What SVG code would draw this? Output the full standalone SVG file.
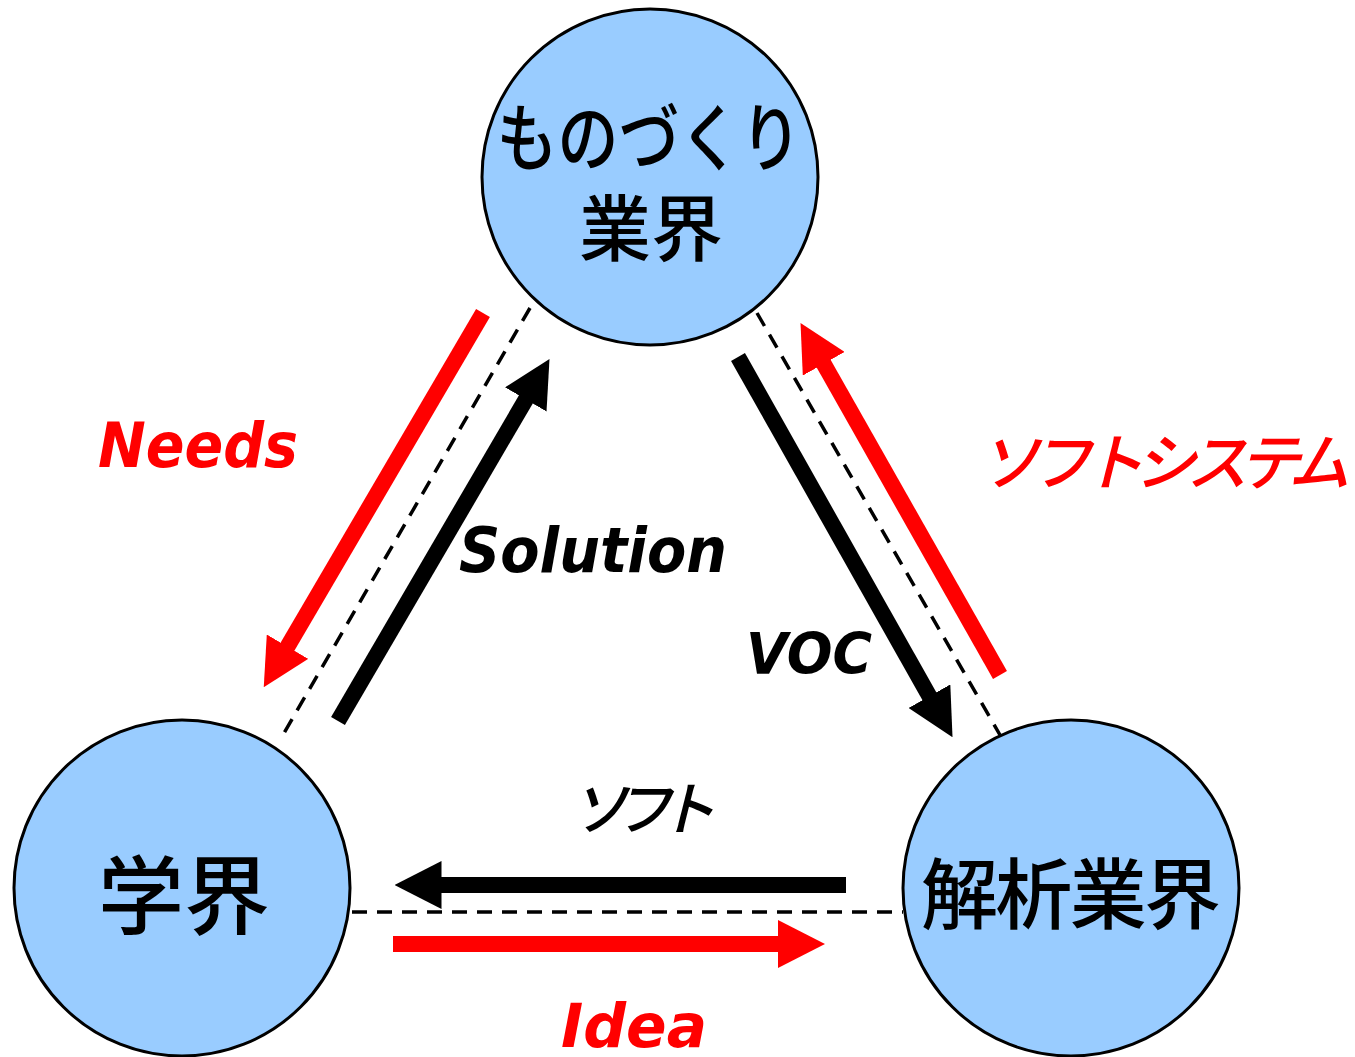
<svg xmlns="http://www.w3.org/2000/svg" width="1355" height="1057" viewBox="0 0 1355 1057">
  <style>
    .node { fill: #99CCFF; stroke: #000000; stroke-width: 3; }
    .ntext { font-family: "Noto Sans CJK JP", "Noto Sans", sans-serif; font-weight: 500; fill: #000000; text-anchor: middle; }
    .dash { stroke: #000000; stroke-width: 3.5; stroke-dasharray: 15 10; fill: none; }
    .arrow-k { stroke: #000000; stroke-width: 16; fill: none; marker-end: url(#headK); }
    .arrow-r { stroke: #FF0000; stroke-width: 16; fill: none; marker-end: url(#headR); }
    .lat { font-family: "DejaVu Sans", "Liberation Sans", sans-serif; font-weight: bold; font-style: italic; }
    .jp { font-family: "Noto Sans CJK JP", sans-serif; font-weight: 500; font-style: italic; }
    .red { fill: #FF0000; }
    .blk { fill: #000000; }
  </style>
  <defs>
    <marker id="headK" markerUnits="userSpaceOnUse" viewBox="0 0 47 48" markerWidth="47" markerHeight="48" refX="1" refY="24" orient="auto">
      <path d="M0,0 L47,24 L0,48 Z" fill="#000000"/>
    </marker>
    <marker id="headR" markerUnits="userSpaceOnUse" viewBox="0 0 47 48" markerWidth="47" markerHeight="48" refX="1" refY="24" orient="auto">
      <path d="M0,0 L47,24 L0,48 Z" fill="#FF0000"/>
    </marker>
  </defs>

  <rect x="0" y="0" width="1355" height="1057" fill="#FFFFFF"/>

  <g id="connectors">
    <line class="dash" x1="530" y1="308" x2="280" y2="740"/>
    <line class="dash" x1="757" y1="313" x2="1000" y2="735"/>
    <line class="dash" x1="352" y1="912" x2="903" y2="912"/>

    <line class="arrow-r" x1="483" y1="313" x2="287" y2="647.5"/>
    <line class="arrow-k" x1="338" y1="721" x2="526.3" y2="398.6"/>
    <line class="arrow-k" x1="738" y1="357" x2="929.9" y2="697.1"/>
    <line class="arrow-r" x1="1000" y1="675" x2="823.2" y2="362.9"/>
    <line class="arrow-k" x1="846" y1="885" x2="440.5" y2="885"/>
    <line class="arrow-r" x1="393" y1="944" x2="779" y2="944"/>
  </g>

  <g id="node-monozukuri">
    <circle class="node" cx="650" cy="177" r="168"/>
    <text class="ntext" x="649" y="165" font-size="74" textLength="305" lengthAdjust="spacingAndGlyphs">ものづくり</text>
    <text class="ntext" x="651" y="255" font-size="72">業界</text>
  </g>

  <g id="node-gakkai">
    <circle class="node" cx="182" cy="888" r="168"/>
    <text class="ntext" x="184" y="928" font-size="86">学界</text>
  </g>

  <g id="node-kaiseki">
    <circle class="node" cx="1071" cy="888" r="168"/>
    <text class="ntext" x="1071" y="923" font-size="77" textLength="300" lengthAdjust="spacing">解析業界</text>
  </g>

  <g id="labels">
    <text class="lat red" x="98" y="467" font-size="62" textLength="200" lengthAdjust="spacingAndGlyphs">Needs</text>
    <text class="lat blk" x="459" y="572" font-size="62" textLength="268" lengthAdjust="spacingAndGlyphs">Solution</text>
    <text class="lat blk" x="746" y="674" font-size="57" textLength="126" lengthAdjust="spacingAndGlyphs">VOC</text>
    <text class="lat red" x="561" y="1047" font-size="61" textLength="146" lengthAdjust="spacingAndGlyphs">Idea</text>
    <text class="jp red" x="978" y="485" font-size="62" textLength="372" lengthAdjust="spacing">ソフトシステム</text>
    <text class="jp blk" x="570" y="830" font-size="58" textLength="146" lengthAdjust="spacing">ソフト</text>
  </g>
</svg>
